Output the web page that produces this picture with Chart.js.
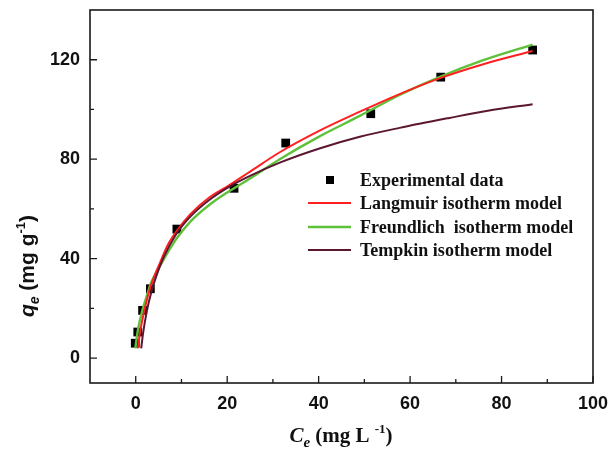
<!DOCTYPE html>
<html>
<head>
<meta charset="utf-8">
<script src="https://cdn.jsdelivr.net/npm/chart.js@4/dist/chart.umd.min.js"></script>
<style>
  html, body { margin: 0; padding: 0; background: #fff; }
  #wrap { width: 611px; height: 453px; }
</style>
</head>
<body>
<div id="wrap"><canvas id="isoChart" width="611" height="453"></canvas></div>
<script>
// ---------------- Daten ----------------
const expCe = [-0.1, 0.45, 1.5, 3.2, 9.0, 21.5, 32.8, 51.4, 66.7, 86.8];
const expQe = [6.0, 10.5, 19.2, 27.9, 51.9, 68.3, 86.5, 98.3, 113.0, 123.9];

const langCe = [0.45, 1.0, 1.9, 2.8, 3.7, 5.5, 7.0, 8.9, 12, 16, 20.5, 25, 31.5, 40, 49, 57.7, 66.4, 76, 86.8];
const langQe = [3.9, 11.0, 19.2, 26.0, 31.2, 39.2, 45.5, 51.0, 58.0, 64.5, 69.6, 75.0, 82.8, 91.3, 99.1, 106.2, 112.5, 118.2, 123.5];

const freuCe = [-0.1, 0.5, 1.5, 2.5, 3.4, 5.0, 7.0, 8.9, 12, 16, 20.5, 25, 31.5, 40, 49, 57.7, 66.4, 76, 86.8];
const freuQe = [3.9, 11.5, 19.5, 25.5, 30.5, 36.0, 42.5, 48.0, 55.0, 61.5, 67.2, 72.2, 80.0, 89.0, 97.4, 105.8, 113.0, 119.8, 126.1];

const tempCe = [1.2, 1.6, 2.5, 3.4, 4.4, 6.1, 8.9, 12, 16, 20.5, 25, 31.5, 40, 49, 57.7, 68.6, 77, 86.8];
const tempQe = [3.9, 10.0, 19.5, 26.5, 32.5, 40.5, 50.0, 57.0, 63.5, 69.0, 73.3, 78.6, 84.2, 89.0, 92.6, 96.6, 99.5, 102.1];

const xTicks = [0, 20, 40, 60, 80, 100];
const xMinorTicks = [10, 30, 50, 70, 90];
const yTicks = [0, 40, 80, 120];
const yMinorTicks = [20, 60, 100];

const seriesNames = [
    "Experimental data",
    "Langmuir isotherm model",
    "Freundlich  isotherm model",
    "Tempkin isotherm model"
];

// ---------------- Hilfsfunktionen ----------------
const SANS = '"Liberation Sans", Arial, sans-serif';
const SERIF = '"Liberation Serif", "Times New Roman", serif';

function toPoints(xs, ys) {
    return xs.map((x, i) => ({ x: x, y: ys[i] }));
}

// mehrteiliger Text (Index / Exponent)
function drawRuns(ctx, runs, cx, cy) {
    let total = 0;
    runs.forEach(r => { ctx.font = r.font; total += ctx.measureText(r.t).width; });
    let x = cx - total / 2;
    runs.forEach(r => {
        ctx.font = r.font;
        ctx.fillText(r.t, x, cy + (r.dy || 0));
        x += ctx.measureText(r.t).width;
    });
}

const framePlugin = {
    id: "frame",
    afterDraw(chart) {
        const ctx = chart.ctx;
        const a = chart.chartArea;
        const xs = chart.scales.x, ys = chart.scales.y;
        ctx.save();
        ctx.strokeStyle = "#1a1a1a";
        ctx.lineWidth = 1.6;
        ctx.strokeRect(a.left, a.top, a.right - a.left, a.bottom - a.top);

        // Ticks nach innen
        ctx.lineWidth = 1.3;
        ctx.beginPath();
        xTicks.forEach(v => { const p = xs.getPixelForValue(v); ctx.moveTo(p, a.bottom); ctx.lineTo(p, a.bottom - 7); });
        xMinorTicks.forEach(v => { const p = xs.getPixelForValue(v); ctx.moveTo(p, a.bottom); ctx.lineTo(p, a.bottom - 4); });
        yTicks.forEach(v => { const p = ys.getPixelForValue(v); ctx.moveTo(a.left, p); ctx.lineTo(a.left + 7, p); });
        yMinorTicks.forEach(v => { const p = ys.getPixelForValue(v); ctx.moveTo(a.left, p); ctx.lineTo(a.left + 4, p); });
        ctx.stroke();

        // Legende
        const ds = chart.data.datasets;
        const lx0 = 308, lx1 = 351, tx = 360;
        const rows = [180, 203, 227, 250];
        ctx.textBaseline = "middle";
        ctx.textAlign = "left";
        ctx.font = "bold 18px " + SERIF;
        rows.forEach((y, i) => {
            const d = ds[i];
            if (i === 0) {
                ctx.fillStyle = d.backgroundColor;
                ctx.fillRect(330 - 4, y - 4, 8, 8);
            } else {
                ctx.strokeStyle = d.borderColor;
                ctx.lineWidth = d.borderWidth;
                ctx.beginPath();
                ctx.moveTo(lx0, y);
                ctx.lineTo(lx1, y);
                ctx.stroke();
            }
            ctx.fillStyle = "#111";
            ctx.fillText(seriesNames[i], tx, y + 1);
        });

        // Achsentitel
        ctx.textBaseline = "alphabetic";
        ctx.fillStyle = "#111";
        drawRuns(ctx, [
            { t: "C", font: "italic bold 21px " + SERIF },
            { t: "e", font: "italic bold 15px " + SERIF, dy: 5 },
            { t: " (mg L ", font: "bold 21px " + SERIF },
            { t: "-1", font: "bold 13px " + SERIF, dy: -9 },
            { t: ")", font: "bold 21px " + SERIF }
        ], 341, 442);

        ctx.translate(34, 266);
        ctx.rotate(-Math.PI / 2);
        drawRuns(ctx, [
            { t: "q", font: "italic bold 21px " + SANS },
            { t: "e", font: "italic bold 14px " + SANS, dy: 5 },
            { t: " (mg g", font: "bold 21px " + SANS },
            { t: "-1", font: "bold 13px " + SANS, dy: -9 },
            { t: ")", font: "bold 21px " + SANS }
        ], 0, 0);
        ctx.restore();
    }
};

// ---------------- Diagramm ----------------
const ctx = document.getElementById("isoChart").getContext("2d");

new Chart(ctx, {
    type: "scatter",
    data: {
        datasets: [
            {
                label: seriesNames[0],
                data: toPoints(expCe, expQe),
                backgroundColor: "#000",
                borderColor: "#000",
                pointStyle: "rect",
                pointRadius: 6.2,
                pointBorderWidth: 0,
                showLine: false,
                order: 5
            },
            {
                label: seriesNames[1],
                data: toPoints(langCe, langQe),
                borderColor: "#FF1F1F",
                borderWidth: 2,
                showLine: true,
                pointRadius: 0,
                cubicInterpolationMode: "monotone",
                order: 1
            },
            {
                label: seriesNames[2],
                data: toPoints(freuCe, freuQe),
                borderColor: "#5FC13A",
                borderWidth: 2.4,
                showLine: true,
                pointRadius: 0,
                cubicInterpolationMode: "monotone",
                order: 2
            },
            {
                label: seriesNames[3],
                data: toPoints(tempCe, tempQe),
                borderColor: "#5B1630",
                borderWidth: 2,
                showLine: true,
                pointRadius: 0,
                cubicInterpolationMode: "monotone",
                order: 0
            }
        ]
    },
    options: {
        responsive: false,
        animation: false,
        layout: { padding: { left: 0, right: 18, top: 10, bottom: 0 } },
        plugins: {
            legend: { display: false },
            tooltip: { enabled: false }
        },
        scales: {
            x: {
                type: "linear",
                min: -10,
                max: 100,
                afterBuildTicks: s => { s.ticks = xTicks.map(v => ({ value: v })); },
                afterFit: s => { s.height = 70; s.paddingLeft = 0; s.paddingRight = 0; },
                grid: { display: false, drawTicks: false },
                border: { display: false },
                ticks: {
                    padding: 10,
                    color: "#111",
                    font: { family: SANS, size: 18, weight: "bold" },
                    maxRotation: 0
                }
            },
            y: {
                type: "linear",
                min: -10,
                max: 140,
                afterBuildTicks: s => { s.ticks = yTicks.map(v => ({ value: v })); },
                afterFit: s => { s.width = 90; s.paddingTop = 0; s.paddingBottom = 0; },
                grid: { display: false, drawTicks: false },
                border: { display: false },
                ticks: {
                    padding: 10,
                    color: "#111",
                    font: { family: SANS, size: 18, weight: "bold" }
                }
            }
        }
    },
    plugins: [framePlugin]
});
</script>
</body>
</html>
